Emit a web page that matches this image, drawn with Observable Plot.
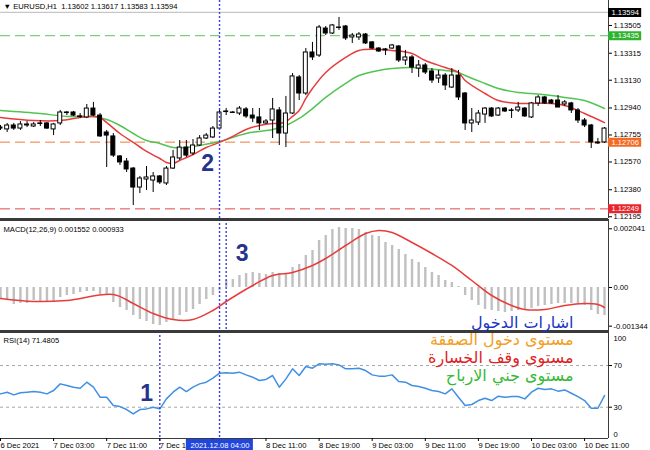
<!DOCTYPE html>
<html><head><meta charset="utf-8">
<script src="https://cdn.jsdelivr.net/npm/d3@7"></script>
<script src="https://cdn.jsdelivr.net/npm/@observablehq/plot@0.6"></script>
<style>
body{margin:0;background:#fff;}
#chart{position:relative;width:650px;height:450px;background:#fff;overflow:hidden;}
#chart svg{position:absolute;left:0;}
</style></head><body><div id="chart"></div>
<script>
// ---------- DATA (EURUSD H1, 6 Dec 19:00 -> 10 Dec 14:00, bar index 0..91) ----------
const open = [1.12806,1.12793,1.12820,1.12799,1.12820,1.12813,1.12834,1.12834,1.12793,1.12834,
1.12909,1.12909,1.12882,1.12875,1.12936,1.12888,1.12772,1.12745,1.12608,1.12573,
1.12525,1.12395,1.12450,1.12443,1.12471,1.12423,1.12525,1.12594,1.12669,1.12628,
1.12683,1.12731,1.12738,1.12799,1.12916,1.12909,1.12902,1.12930,1.12888,1.12875,
1.12834,1.12854,1.12923,1.12765,1.12902,1.13149,1.13039,1.13320,1.13299,1.13484,
1.13450,1.13491,1.13498,1.13423,1.13423,1.13443,1.13389,1.13347,1.13341,1.13347,
1.13361,1.13265,1.13286,1.13210,1.13231,1.13190,1.13142,1.13162,1.13080,1.13162,
1.13039,1.12834,1.12840,1.12895,1.12936,1.12888,1.12936,1.12923,1.12923,1.12936,
1.12875,1.12971,1.13012,1.12991,1.12991,1.12964,1.12971,1.12923,1.12854,1.12820,
1.12704,1.12704];
const high = [1.12820,1.12834,1.12834,1.12847,1.12847,1.12840,1.12854,1.12840,1.12834,1.12923,
1.12916,1.12916,1.12902,1.12964,1.12978,1.12902,1.12786,1.12765,1.12614,1.12594,
1.12532,1.12471,1.12539,1.12498,1.12477,1.12539,1.12649,1.12717,1.12717,1.12724,
1.12751,1.12765,1.12813,1.12923,1.12936,1.12916,1.12950,1.12943,1.12936,1.12936,
1.12861,1.13005,1.12943,1.13019,1.13176,1.13162,1.13347,1.13389,1.13505,1.13498,
1.13512,1.13560,1.13505,1.13450,1.13457,1.13450,1.13395,1.13354,1.13347,1.13375,
1.13368,1.13334,1.13299,1.13265,1.13245,1.13210,1.13197,1.13176,1.13210,1.13197,
1.13046,1.12936,1.12923,1.12943,1.12943,1.12943,1.12943,1.12936,1.12978,1.12943,
1.12978,1.13025,1.13019,1.12998,1.13025,1.12991,1.12978,1.12936,1.12868,1.12827,
1.12731,1.12806];
const low = [1.12786,1.12772,1.12786,1.12786,1.12806,1.12806,1.12813,1.12793,1.12751,1.12820,
1.12888,1.12882,1.12868,1.12868,1.12882,1.12738,1.12532,1.12601,1.12546,1.12498,
1.12272,1.12354,1.12375,1.12361,1.12416,1.12409,1.12519,1.12580,1.12601,1.12614,
1.12676,1.12724,1.12731,1.12786,1.12888,1.12902,1.12888,1.12868,1.12840,1.12786,
1.12827,1.12731,1.12683,1.12669,1.12895,1.12991,1.13025,1.13265,1.13286,1.13436,
1.13443,1.13471,1.13402,1.13382,1.13402,1.13375,1.13341,1.13320,1.13299,1.13341,
1.13251,1.13231,1.13176,1.13149,1.13169,1.13108,1.13108,1.13060,1.13073,1.12991,
1.12786,1.12772,1.12820,1.12834,1.12875,1.12882,1.12909,1.12868,1.12909,1.12875,
1.12868,1.12950,1.12964,1.12964,1.12943,1.12950,1.12902,1.12834,1.12806,1.12662,
1.12690,1.12697];
const close = [1.12799,1.12820,1.12799,1.12827,1.12827,1.12827,1.12830,1.12799,1.12827,1.12909,
1.12905,1.12888,1.12878,1.12936,1.12888,1.12745,1.12751,1.12614,1.12567,1.12519,
1.12395,1.12457,1.12464,1.12471,1.12430,1.12525,1.12601,1.12669,1.12614,1.12683,
1.12731,1.12751,1.12799,1.12909,1.12912,1.12906,1.12936,1.12882,1.12868,1.12834,
1.12847,1.12930,1.12765,1.12902,1.13156,1.13039,1.13320,1.13286,1.13491,1.13450,
1.13505,1.13488,1.13416,1.13436,1.13443,1.13382,1.13347,1.13327,1.13334,1.13368,
1.13265,1.13286,1.13217,1.13231,1.13183,1.13128,1.13162,1.13094,1.13162,1.13012,
1.12834,1.12854,1.12902,1.12936,1.12882,1.12936,1.12916,1.12920,1.12943,1.12882,
1.12971,1.13012,1.12971,1.12971,1.12943,1.12978,1.12923,1.12854,1.12820,1.12704,
1.12697,1.12799];

// fast (red) and slow (green) moving averages, read at bar indices
const fastIdx = [0,5,9,12,14,15,16,18,20,22,24,25,26,27,29,31,33,35,37,39,41,42,43,44,45,46,47,49,52,54,57,59,62,64,67,69,70,73,75,78,80,83,85,88,91];
const fastMA  = [1.12875,1.12854,1.12854,1.12875,1.12882,1.12875,1.12840,1.12765,1.12704,1.12642,1.12594,1.12567,1.12560,1.12580,1.12621,1.12669,1.12704,1.12745,1.12793,1.12820,1.12834,1.12834,1.12847,1.12882,1.12923,1.13005,1.13073,1.13183,1.13286,1.13334,1.13341,1.13334,1.13313,1.13265,1.13217,1.13183,1.13128,1.13039,1.12991,1.12971,1.12971,1.12971,1.12957,1.12902,1.12840];
const slowIdx = [0,6,10,14,16,18,20,22,24,26,28,30,33,37,41,43,45,47,49,52,54,57,59,62,64,67,69,70,73,75,78,80,83,85,88,91];
const slowMA  = [1.12923,1.12902,1.12882,1.12882,1.12861,1.12820,1.12765,1.12717,1.12697,1.12669,1.12669,1.12683,1.12710,1.12765,1.12793,1.12820,1.12868,1.12936,1.13012,1.13108,1.13162,1.13197,1.13210,1.13217,1.13210,1.13197,1.13183,1.13162,1.13108,1.13073,1.13046,1.13039,1.13025,1.13012,1.12991,1.12936];

// MACD histogram (per bar) and signal line
const macdHist = [-0.000382,-0.000417,-0.000591,-0.000556,-0.000556,-0.000452,-0.000487,-0.000522,-0.000487,-0.000348,
-0.000278,-0.000243,-0.000174,-0.000139,-0.000139,-0.000243,-0.000278,-0.000522,-0.000695,-0.000800,
-0.000974,-0.001113,-0.001182,-0.001287,-0.001321,-0.001217,-0.001113,-0.000974,-0.000869,-0.000765,
-0.000591,-0.000417,-0.000278,-0.000104,0.000243,0.000278,0.000417,0.000487,0.000522,0.000487,
0.000452,0.000522,0.000487,0.000452,0.000695,0.000800,0.001113,0.001287,0.001634,0.001808,
0.002017,0.002086,0.002051,0.002051,0.002017,0.001912,0.001808,0.001773,0.001565,0.001460,
0.001321,0.001147,0.000974,0.000869,0.000695,0.000522,0.000417,0.000243,0.000174,0.000035,
-0.000278,-0.000452,-0.000626,-0.000765,-0.000800,-0.000834,-0.000869,-0.000834,-0.000800,-0.000765,
-0.000730,-0.000661,-0.000626,-0.000591,-0.000556,-0.000556,-0.000556,-0.000591,-0.000626,-0.000800,
-0.000939,-0.000974];
const sigIdx = [0,5,10,17,20,23,26,29,32,34,38,41,44,47,49,52,55,57,59,62,65,68,71,74,77,79,82,85,88,90,91];
const sigVal = [-0.000382,-0.000487,-0.000452,-0.000243,-0.000556,-0.000904,-0.001113,-0.001113,-0.000800,-0.000487,0.000070,0.000417,0.000522,0.000765,0.001008,0.001460,0.001878,0.001982,0.001912,0.001565,0.001182,0.000765,0.000243,-0.000278,-0.000626,-0.000765,-0.000765,-0.000626,-0.000556,-0.000591,-0.000695];

// RSI(14) per bar
const rsi = [42.8,44.4,41.8,43.8,44.4,45.0,44.4,42.8,46.0,52.4,
50.8,49.2,48.2,54.0,49.2,39.6,39.6,31.6,30.6,27.8,
23.6,27.8,28.4,30.0,28.4,38.0,44.4,49.2,45.0,49.2,
52.4,54.0,57.8,62.6,63.0,62.6,63.6,61.0,58.8,55.6,
56.6,60.4,49.2,57.2,66.8,60.4,69.0,67.4,71.6,71.2,
71.6,70.6,66.8,66.8,67.4,65.2,61.0,59.8,59.8,61.0,
54.6,54.0,50.8,49.8,48.2,46.0,45.0,42.8,47.6,39.6,
31.6,32.6,36.4,38.6,36.4,40.6,39.6,40.2,40.2,38.0,
44.4,48.2,47.0,47.6,45.4,46.6,43.4,40.2,36.4,29.0,
29.0,41.2];

// axis ticks / labels (8 Dec 03:00 sits under the cursor label, so only its tick is kept)
const timeTickIdx = [0,8,16,24,32,40,48,56,64,72,80,88];
const timeTickLabels = ["6 Dec 2021","7 Dec 03:00","7 Dec 11:00","7 Dec 19:00","","8 Dec 11:00","8 Dec 19:00","9 Dec 03:00","9 Dec 11:00","9 Dec 19:00","10 Dec 03:00","10 Dec 11:00"];
const priceTicks = [1.13505,1.13315,1.13130,1.12940,1.12755,1.12570,1.12380,1.12195];
const levelValues = [1.13594,1.13435,1.12706,1.12249];
const levelBoxColors = ["#000000","#2fb32f","#f26a24","#e8242c"];
const levelLineColors = [null,"#5cc55c","#f07a3a","#e04848"];
const macdTicks = [0.002041,0,-0.001344];
const macdTickLabels = ["0.002041","0.00","-0.001344"];
const rsiLevels = [70,30];
const rsiEnds = [{v:100, t:"100", shift:4}, {v:0, t:"0", shift:-4}];

const headerText = "▼ EURUSD,H1  1.13602 1.13617 1.13583 1.13594";
const macdText = "MACD(12,26,9) 0.001552 0.000933";
const rsiText = "RSI(14) 71.4805";
const cursorIdx = 33, cursorLabel = "2021.12.08 04:00";
const signalMarks = [{t:"2", i:31.2, v:1.12556}, {t:"3", i:36.4, v:0.00118}, {t:"1", i:22.0, v:43.1}];
const legendTexts = ["اشارات الدخول","مستوى دخول الصفقة","مستوى وقف الخسارة","مستوى جني الارباح"];
const legendColors = ["#1c36c4","#f2a024","#e01e24","#36b936"];

// ---------- BUILD ----------
const W = 650, MR = 42;
const xDomain = [0, 91.6];
const font = "'Liberation Sans', Arial, sans-serif";
const st = {fontFamily: font, fontSize: "7.6px", background: "transparent", overflow: "visible"};
const navy = "#26338c", cursorBlue = "#3d3de0", sep = "#3a3a3a";
const candles = open.map((o, i) => ({i, o, h: high[i], l: low[i], c: close[i]}));
const levels = levelValues.map((v, k) => ({v, label: v.toFixed(5), box: levelBoxColors[k], line: levelLineColors[k]}));
const chart = document.getElementById("chart");

// main price panel
const mainY = [1.12183, 1.13676];
const main = Plot.plot({
  width: W, height: 219, marginTop: 0, marginBottom: 1, marginLeft: 0, marginRight: MR,
  x: {domain: xDomain, axis: null}, y: {domain: mainY, label: null}, color: {type: "identity"}, style: st,
  marks: [
    Plot.ruleY([levelValues[0]], {stroke: "#c6c6c6", strokeWidth: 1.2}),
    Plot.ruleY(levels.filter(d => d.line), {y: "v", stroke: "line", strokeDasharray: "10,5"}),
    Plot.line(slowIdx.map((i, k) => ({i, v: slowMA[k]})), {x: "i", y: "v", stroke: "#52c452", curve: "catmull-rom"}),
    Plot.line(fastIdx.map((i, k) => ({i, v: fastMA[k]})), {x: "i", y: "v", stroke: "#e83c3c", curve: "catmull-rom"}),
    Plot.ruleX(candles, {x: "i", y1: "l", y2: "h", stroke: "#000"}),
    Plot.rect(candles, {x1: d => d.i - 0.3, x2: d => d.i + 0.3, y1: "o", y2: "c", fill: d => d.c >= d.o ? "#fff" : "#000", stroke: "#000"}),
    Plot.ruleX([cursorIdx], {stroke: cursorBlue, strokeDasharray: "2,2", strokeWidth: 1.4}),
    Plot.ruleX([xDomain[1]], {stroke: sep}),
    Plot.axisY(priceTicks, {anchor: "right", label: null, tickSize: 3, tickPadding: 2, tickFormat: d => d.toFixed(5), fill: "#000"}),
    Plot.ruleY(levels, {y: "v", x1: xDomain[1], x2: 96.6, stroke: "box", strokeWidth: 9}),
    Plot.text(levels, {x: xDomain[1], y: "v", text: "label", dx: 3, textAnchor: "start", fill: "#fff", fontSize: 7.6}),
    Plot.text([headerText], {frameAnchor: "top-left", dx: 3, dy: 6, lineAnchor: "middle", textAnchor: "start", fill: "#000", fontSize: 7.6}),
    Plot.text(signalMarks.slice(0,1), {x: "i", y: "v", text: "t", fill: navy, fontSize: 23, fontWeight: "bold"})
  ]
});
main.style.top = "0px";
chart.appendChild(main);

// MACD panel
const macdY = [-0.001530, 0.002364];
const macd = Plot.plot({
  width: W, height: 112, marginTop: 0, marginBottom: 0, marginLeft: 0, marginRight: MR,
  x: {domain: xDomain, axis: null}, y: {domain: macdY, label: null}, style: st,
  marks: [
    Plot.ruleX(macdHist, {x: (d, i) => i, y1: 0, y2: d => d, stroke: "#c0c0c0", strokeWidth: 2.4}),
    Plot.line(sigIdx.map((i, k) => ({i, v: sigVal[k]})), {x: "i", y: "v", stroke: "#e83c3c", curve: "catmull-rom"}),
    Plot.ruleX([cursorIdx, cursorIdx + 1], {stroke: cursorBlue, strokeDasharray: "2,2", strokeWidth: 1.4}),
    Plot.ruleY([macdY[1]], {stroke: sep, strokeWidth: 3}),
    Plot.ruleX([xDomain[1]], {stroke: sep}),
    Plot.axisY(macdTicks, {anchor: "right", label: null, tickSize: 3, tickPadding: 2, tickFormat: d => macdTickLabels[macdTicks.indexOf(d)], fill: "#000"}),
    Plot.text([macdText], {frameAnchor: "top-left", dx: 3, dy: 10, lineAnchor: "middle", textAnchor: "start", fill: "#000", fontSize: 7.6}),
    Plot.text(signalMarks.slice(1,2), {x: "i", y: "v", text: "t", fill: navy, fontSize: 23, fontWeight: "bold"})
  ]
});
macd.style.top = "219px";
chart.appendChild(macd);

// RSI panel
const rsiY = [0, 102.6];
const rsiBottom = -11.5;
const rsiPanel = Plot.plot({
  width: W, height: 119, marginTop: 0, marginBottom: 12, marginLeft: 0, marginRight: MR,
  x: {domain: xDomain, label: null}, y: {domain: rsiY, label: null}, style: st,
  marks: [
    Plot.ruleY(rsiLevels, {stroke: "#a8a8a8", strokeDasharray: "3,3"}),
    Plot.line(rsi, {x: (d, i) => i, y: d => d, stroke: "#3f90e4"}),
    Plot.ruleX([24, cursorIdx], {y1: rsiY[1], y2: rsiBottom, stroke: cursorBlue, strokeDasharray: "2,2", strokeWidth: 1.4}),
    Plot.ruleY([rsiY[1]], {stroke: sep, strokeWidth: 3}),
    Plot.ruleY([rsiY[0]], {stroke: sep}),
    Plot.ruleX([xDomain[1]], {stroke: sep}),
    Plot.axisY(rsiLevels, {anchor: "right", label: null, tickSize: 3, tickPadding: 2, fill: "#000"}),
    ...rsiEnds.map(e => Plot.text([e], {x: xDomain[1], y: "v", text: "t", dx: 5, dy: e.shift, textAnchor: "start", fill: "#000", fontSize: 7.6})),
    Plot.axisX(timeTickIdx, {anchor: "bottom", label: null, tickSize: 3, tickPadding: 1, textAnchor: "start", tickFormat: d => timeTickLabels[timeTickIdx.indexOf(d)], fill: "#000"}),
    Plot.rect([cursorLabel], {x1: cursorIdx - 5.0, x2: cursorIdx + 5.1, y1: -0.9, y2: rsiBottom, fill: "#2046dc"}),
    Plot.text([cursorLabel], {x: cursorIdx + 0.07, y: -6.4, fill: "#fff", fontSize: 7.6}),
    Plot.text([rsiText], {frameAnchor: "top-left", dx: 3, dy: 9, lineAnchor: "middle", textAnchor: "start", fill: "#000", fontSize: 7.6}),
    Plot.text(signalMarks.slice(2,3), {x: "i", y: "v", text: "t", fill: navy, fontSize: 23, fontWeight: "bold"}),
    ...legendTexts.map((t, k) => Plot.text([t], {frameAnchor: "top-right", dx: -35, dy: -9 + k * 17.8, lineAnchor: "middle", textAnchor: "end", fill: legendColors[k], fontSize: 16, fontFamily: "'DejaVu Sans', sans-serif"}))
  ]
});
rsiPanel.style.top = "331px";
chart.appendChild(rsiPanel);
</script></body></html>
